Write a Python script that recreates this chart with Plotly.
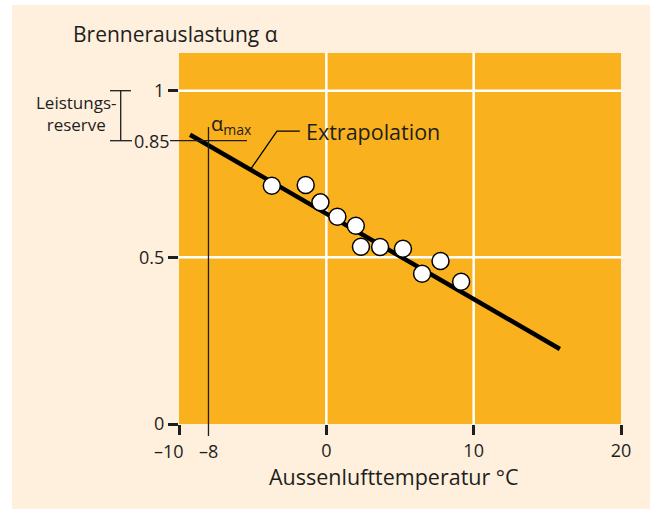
import plotly.graph_objects as go

# ---- data ----
temp = [-3.7, -1.4, -0.4, 0.75, 2.0, 2.35, 3.65, 5.2, 6.5, 7.75, 9.15]
alpha = [0.715, 0.717, 0.665, 0.622, 0.595, 0.532, 0.531, 0.526, 0.451, 0.489, 0.427]
fit_temp = [-9.25, 15.85]
fit_alpha = [0.868, 0.225]
leader_temp = [-5.1, -3.35, -1.8]
leader_alpha = [0.767, 0.879, 0.879]
x_ticks = [-10, 0, 10, 20]
x_ticktext = ["", "0", "10", "20"]
y_ticks = [0, 0.5, 1]
y_ticktext = ["0", "0.5", "1"]
grid_x = [0, 10]
grid_y = [0.5, 1]
t_min = -10
t_design = -8
alpha_max = 0.85
alpha_full = 1.0

ORANGE = "#F9B21D"
CREAM = "#FEF0DC"
INK = "#1E1E1E"
FONT = "Open Sans"

L, R, T, B = 179, 29, 53, 85
W, H = 650, 509
PW, PH = W - L - R, H - T - B


def px_x(p):
    return (p - L) / PW


def px_y(p):
    return (H - B - p) / PH


fig = go.Figure()

fig.add_trace(go.Scatter(x=fit_temp, y=fit_alpha, mode="lines",
                         line=dict(color="black", width=4.5), hoverinfo="skip"))
fig.add_trace(go.Scatter(x=leader_temp, y=leader_alpha, mode="lines",
                         line=dict(color="black", width=1.3), hoverinfo="skip"))
fig.add_trace(go.Scatter(x=temp, y=alpha, mode="markers",
                         marker=dict(size=17, color="white",
                                     line=dict(color="black", width=1.5)),
                         hoverinfo="skip"))

shapes = []
# white margins of the page
shapes.append(dict(type="rect", xref="paper", yref="paper", x0=px_x(-10), x1=px_x(12),
                   y0=px_y(520), y1=px_y(-10), fillcolor="white", line_width=0, layer="below"))
shapes.append(dict(type="rect", xref="paper", yref="paper", x0=px_x(-10), x1=px_x(660),
                   y0=px_y(5), y1=px_y(-10), fillcolor="white", line_width=0, layer="below"))
# white grid
for g in grid_x:
    shapes.append(dict(type="line", xref="x", yref="paper", x0=g, x1=g, y0=0, y1=1,
                       line=dict(color="white", width=2.5), layer="below"))
for g in grid_y:
    shapes.append(dict(type="line", xref="paper", yref="y", x0=0, x1=1, y0=g, y1=g,
                       line=dict(color="white", width=2.5), layer="below"))
# alpha_max guide lines
shapes.append(dict(type="line", xref="x", yref="paper", x0=t_design, x1=t_design,
                   y0=px_y(436), y1=px_y(127), line=dict(color=INK, width=1.3)))
shapes.append(dict(type="line", xref="paper", yref="y", x0=px_x(170), x1=px_x(247),
                   y0=alpha_max, y1=alpha_max, line=dict(color=INK, width=1.3)))
# Leistungsreserve bracket
shapes.append(dict(type="line", xref="paper", yref="y", x0=px_x(120.7), x1=px_x(120.7),
                   y0=alpha_max, y1=alpha_full, line=dict(color=INK, width=1.3)))
shapes.append(dict(type="line", xref="paper", yref="y", x0=px_x(110), x1=px_x(131),
                   y0=alpha_full, y1=alpha_full, line=dict(color=INK, width=1.3)))
shapes.append(dict(type="line", xref="paper", yref="y", x0=px_x(110), x1=px_x(132),
                   y0=alpha_max, y1=alpha_max, line=dict(color=INK, width=1.3)))

annotations = [
    dict(text="Brennerauslastung α", xref="paper", yref="paper", x=px_x(71), y=px_y(34),
         xanchor="left", yanchor="middle", showarrow=False, font=dict(size=21)),
    dict(text="Aussenlufttemperatur °C", xref="paper", yref="paper", x=px_x(394), y=px_y(476),
         xanchor="center", yanchor="middle", showarrow=False, font=dict(size=21.5)),
    dict(text="Leistungs-<br>reserve", xref="paper", yref="paper", x=px_x(76.5), y=px_y(113),
         xanchor="center", yanchor="middle", showarrow=False, font=dict(size=17)),
    dict(text="0.85", xref="paper", yref="y", x=px_x(151.5), y=alpha_max,
         xanchor="center", yanchor="middle", showarrow=False, font=dict(size=18)),
    dict(text="–10", xref="paper", yref="paper", x=px_x(169), y=px_y(451.5),
         xanchor="center", yanchor="middle", showarrow=False, font=dict(size=18)),
    dict(text="–8", xref="x", yref="paper", x=t_design, y=px_y(451.5),
         xanchor="center", yanchor="middle", showarrow=False, font=dict(size=18)),
    dict(text="α<sub>max</sub>", xref="paper", yref="y", x=px_x(209), y=alpha_max,
         xanchor="left", yanchor="bottom", showarrow=False, font=dict(size=20)),
    dict(text="Extrapolation", xref="x", yref="y", x=leader_temp[-1] + 0.25, y=leader_alpha[-1],
         xanchor="left", yanchor="middle", showarrow=False, font=dict(size=21.5)),
]

fig.update_layout(
    width=W, height=H,
    margin=dict(l=L, r=R, t=T, b=B, pad=0),
    paper_bgcolor=CREAM, plot_bgcolor=ORANGE,
    font=dict(family=FONT, color=INK, size=18),
    showlegend=False, hovermode=False,
    shapes=shapes, annotations=annotations,
    xaxis=dict(range=[t_min, 20], tickvals=x_ticks, ticktext=x_ticktext,
               showgrid=False, zeroline=False, showline=False,
               ticks="outside", ticklen=10, tickwidth=3, tickcolor=INK,
               tickfont=dict(size=18), fixedrange=True),
    yaxis=dict(range=[0, PH / 333.3], tickvals=y_ticks, ticktext=y_ticktext,
               showgrid=False, zeroline=False, showline=False,
               ticks="outside", ticklen=10, tickwidth=3, tickcolor=INK,
               tickfont=dict(size=18), fixedrange=True),
)

fig.write_html("out.html", config={"displayModeBar": False, "staticPlot": True},
               post_script="document.body.style.margin='0';document.body.style.overflow='hidden';")
